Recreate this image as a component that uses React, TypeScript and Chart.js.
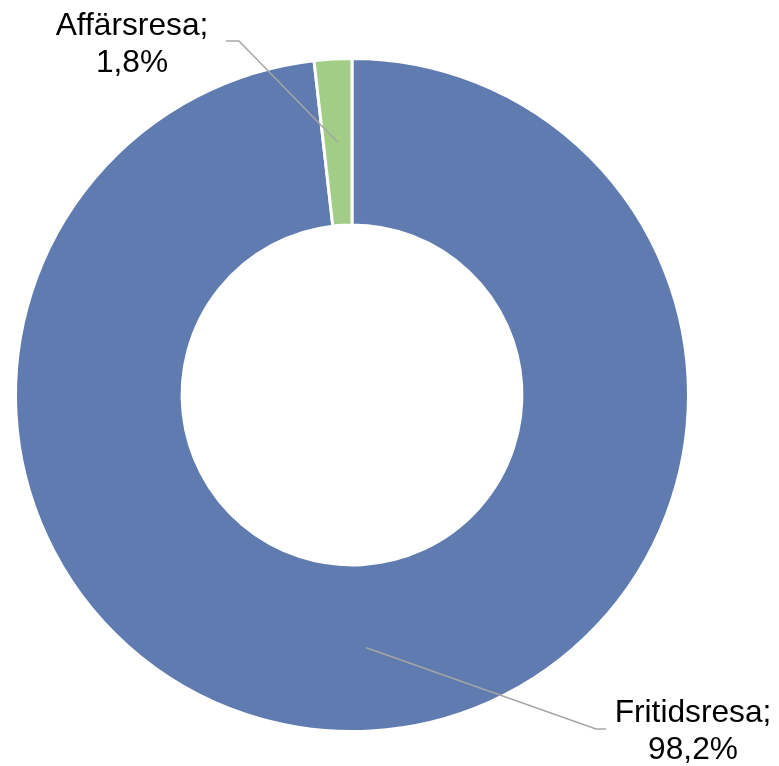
import React, { useEffect, useRef } from "react";
import { Chart, registerables } from "chart.js";

Chart.register(...registerables);

const categories = ["Fritidsresa", "Affärsresa"];
const values = [98.2, 1.8];
const valueLabels = ["98,2%", "1,8%"];
const colors = ["#607BAF", "#A2CD86"];

// label placement (style): text center x, first baseline y, leader line anchor points
const labelLayout = [
  { x: 693, y: 722, line: [[596, 729], [606, 729]] },
  { x: 132, y: 35, line: [[239, 41], [226, 41]] },
];

const labelPlugin = {
  id: "calloutLabels",
  afterDatasetsDraw(chart: any) {
    const ctx = chart.ctx as CanvasRenderingContext2D;
    const meta = chart.getDatasetMeta(0);
    meta.data.forEach((arc: any, i: number) => {
      const p = arc.tooltipPosition(false);
      const L = labelLayout[i];
      ctx.save();
      ctx.strokeStyle = "#A6A6A6";
      ctx.lineWidth = 1.5;
      ctx.beginPath();
      ctx.moveTo(p.x, p.y);
      ctx.lineTo(L.line[0][0], L.line[0][1]);
      ctx.lineTo(L.line[1][0], L.line[1][1]);
      ctx.stroke();
      ctx.fillStyle = "#000000";
      ctx.font = "31.7px 'Liberation Sans', Arial, sans-serif";
      ctx.textAlign = "center";
      ctx.textBaseline = "alphabetic";
      ctx.fillText(categories[i] + ";", L.x, L.y);
      ctx.fillText(valueLabels[i], L.x, L.y + 37);
      ctx.restore();
    });
  },
};

export default function App() {
  const ref = useRef<HTMLCanvasElement>(null);
  useEffect(() => {
    document.body.style.margin = "0";
    const chart = new Chart(ref.current!, {
      type: "doughnut",
      data: {
        labels: categories,
        datasets: [
          {
            data: values,
            backgroundColor: colors,
            borderColor: "#FFFFFF",
            borderWidth: 3,
          },
        ],
      },
      options: {
        animation: false,
        responsive: false,
        maintainAspectRatio: false,
        cutout: "50.5%",
        layout: { padding: { left: 14, right: 89, top: 57, bottom: 33 } },
        plugins: { legend: { display: false }, tooltip: { enabled: false } },
      },
      plugins: [labelPlugin],
    });
    return () => chart.destroy();
  }, []);
  return (
    <div style={{ width: 779, height: 766 }}>
      <canvas ref={ref} width={779} height={766} style={{ width: 779, height: 766, display: "block" }} />
    </div>
  );
}
